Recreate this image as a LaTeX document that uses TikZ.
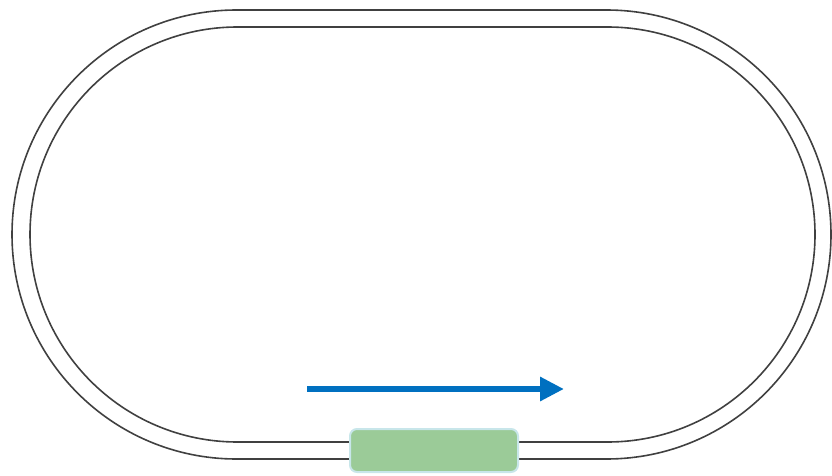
\documentclass[tikz,border=0pt]{standalone}
\usetikzlibrary{arrows.meta}
\definecolor{trackgray}{HTML}{404040}
\definecolor{stationgreen}{HTML}{9BCB98}
\definecolor{stationedge}{HTML}{C8E6EA}
\definecolor{arrowblue}{HTML}{0070C0}
\tikzset{
  trackline/.style={draw=trackgray, line width=1.6pt},
  stationbox/.style={fill=stationgreen, draw=stationedge, line width=2pt, rounded corners=7pt, minimum width=168pt, minimum height=43pt, inner sep=0pt},
  dirarrow/.style={draw=arrowblue, line width=6pt, -{Triangle[length=24pt,width=23pt]}}
}
\begin{document}
\begin{tikzpicture}[x=1pt,y=1pt]
\useasboundingbox (0,0) rectangle (832,475);
% outer rail
\draw[trackline] (236.5,16) -- (606.5,16) arc[start angle=-90,end angle=90,radius=224.5] -- (236.5,465) arc[start angle=90,end angle=270,radius=224.5] -- cycle;
% inner rail
\draw[trackline] (237.5,33) -- (607.5,33) arc[start angle=-90,end angle=90,radius=207.5] -- (237.5,448) arc[start angle=90,end angle=270,radius=207.5] -- cycle;
% station
\node[stationbox] (station) at (434,24.5) {};
% direction arrow
\coordinate (arrowstart) at (307,86);
\coordinate (arrowend) at (564,86);
\draw[dirarrow] (arrowstart) -- (arrowend);
\end{tikzpicture}
\end{document}
